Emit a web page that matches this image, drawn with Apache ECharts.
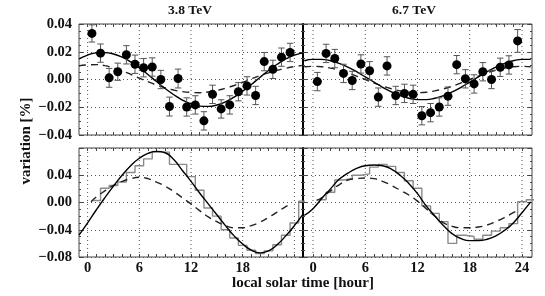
<!DOCTYPE html>
<html><head><meta charset="utf-8">
<script src="https://cdn.jsdelivr.net/npm/echarts@6/dist/echarts.min.js"></script>
<style>html,body{margin:0;padding:0;background:#fff}#c{width:545px;height:296px}</style>
</head><body><div id="c"></div>
<script>
// ---------- data ----------
const panelTitles = ['3.8 TeV', '6.7 TeV'];
const curveHours = [-1,0,1,2,3,4,5,6,7,8,9,10,11,12,13,14,15,16,17,18,19,20,21,22,23,24,25];
const pointHours = [0.5,1.5,2.5,3.5,4.5,5.5,6.5,7.5,8.5,9.5,10.5,11.5,12.5,13.5,14.5,15.5,16.5,17.5,18.5,19.5,20.5,21.5,22.5,23.5];
const dashHours = [0.4,1,2,3,4,5,6,7,8,9,10,11,12,13,14,15,16,17,18,19,20,21,22,23,23.6];
const stepEdges = [0.5,1.5,2.5,3.5,4.5,5.5,6.5,7.5,8.5,9.5,10.5,11.5,12.5,13.5,14.5,15.5,16.5,17.5,18.5,19.5,20.5,21.5,22.5,23.5,24.5,25.5];
const gridHours = [0,6,12,18,24];
const minorHours = [0,1,2,3,4,5,6,7,8,9,10,11,12,13,14,15,16,17,18,19,20,21,22,23,24];
const labelHoursLeft = [0,6,12,18];
const labelHoursRight = [0,6,12,18,24];

// upper panels: measured variation with errors, fitted curves
const pointsL = [0.0332,0.0190,0.0012,0.0056,0.0178,0.0110,0.0085,0.0090,0.0000,-0.0195,0.0007,-0.0198,-0.0183,-0.0298,-0.0107,-0.0212,-0.0183,-0.0088,-0.0046,-0.0115,0.0129,0.0073,0.0161,0.0195];
const errL = [0.0062,0.0066,0.0068,0.0062,0.0066,0.0066,0.0066,0.0066,0.0066,0.0068,0.0068,0.0066,0.0066,0.0066,0.0066,0.0066,0.0066,0.0066,0.0066,0.0066,0.0066,0.0066,0.0066,0.0066];
const pointsR = [-0.0015,0.0188,0.0151,0.0044,-0.0007,0.0112,0.0063,-0.0127,0.0098,-0.0115,-0.0100,-0.0107,-0.0261,-0.0239,-0.0198,-0.0120,0.0107,0.0005,-0.0032,0.0056,0.0000,0.0088,0.0105,0.0278];
const errR = [0.0066,0.0066,0.0066,0.0066,0.0066,0.0066,0.0066,0.0066,0.0066,0.0066,0.0066,0.0066,0.0066,0.0066,0.0066,0.0066,0.0066,0.0066,0.0066,0.0066,0.0066,0.0066,0.0066,0.0082];
const topSolidL = [0.0148,0.0176,0.0192,0.0194,0.0184,0.0161,0.0127,0.0084,0.0036,-0.0015,-0.0065,-0.0110,-0.0148,-0.0176,-0.0192,-0.0194,-0.0184,-0.0161,-0.0127,-0.0084,-0.0036,0.0015,0.0065,0.0110,0.0148,0.0176,0.0192];
const topDashL = [0.0098,0.0105,0.0107,0.0100,0.0082,0.0062,0.0037,0.0010,-0.0016,-0.0040,-0.0060,-0.0076,-0.0087,-0.0093,-0.0095,-0.0090,-0.0079,-0.0063,-0.0043,-0.0020,0.0005,0.0028,0.0048,0.0066,0.0081,0.0093,0.0102];
const topSolidR = [0.0135,0.0145,0.0145,0.0135,0.0116,0.0089,0.0056,0.0019,-0.0019,-0.0056,-0.0089,-0.0116,-0.0135,-0.0145,-0.0145,-0.0135,-0.0116,-0.0089,-0.0056,-0.0019,0.0019,0.0056,0.0089,0.0116,0.0135,0.0145,0.0145];
const topDashR = [0.0092,0.0095,0.0092,0.0082,0.0067,0.0048,0.0025,0.0000,-0.0025,-0.0048,-0.0067,-0.0082,-0.0092,-0.0095,-0.0092,-0.0082,-0.0067,-0.0048,-0.0025,0.0000,0.0025,0.0048,0.0067,0.0082,0.0092,0.0095,0.0092];

// lower panels: histogram (steps) and curves
const stepL = [0.003,0.021,0.025,0.030,0.044,0.054,0.064,0.074,0.074,0.056,0.056,0.038,0.018,-0.008,-0.020,-0.040,-0.052,-0.063,-0.070,-0.075,-0.071,-0.062,-0.048,-0.030,0.002];
const stepR = [0.004,0.015,0.033,0.035,0.040,0.042,0.052,0.056,0.053,0.044,0.032,0.021,-0.005,-0.016,-0.028,-0.060,-0.048,-0.050,-0.054,-0.048,-0.042,-0.037,-0.031,0.001,0.004];
const botSolidL = [-0.048,-0.030,-0.011,0.007,0.024,0.040,0.054,0.065,0.072,0.075,0.073,0.063,0.047,0.031,0.014,-0.002,-0.018,-0.034,-0.049,-0.061,-0.070,-0.074,-0.071,-0.062,-0.049,-0.034,-0.017];
const botDashL = [0.001,0.008,0.017,0.025,0.031,0.035,0.037,0.035,0.030,0.024,0.016,0.007,-0.002,-0.012,-0.021,-0.028,-0.034,-0.037,-0.037,-0.034,-0.029,-0.022,-0.014,-0.006,-0.002];
const botSolidR = [-0.019,-0.009,0.006,0.020,0.034,0.043,0.050,0.054,0.055,0.054,0.049,0.040,0.028,0.013,-0.005,-0.020,-0.034,-0.046,-0.053,-0.056,-0.056,-0.054,-0.049,-0.041,-0.030,-0.015,0.001];
const botDashR = [0.003,0.007,0.017,0.026,0.033,0.035,0.036,0.035,0.031,0.025,0.018,0.011,0.002,-0.009,-0.020,-0.030,-0.035,-0.037,-0.037,-0.036,-0.033,-0.028,-0.022,-0.015,-0.011];

// ---------- chart ----------
const FONT = 'Liberation Serif';
const chart = echarts.init(document.getElementById('c'), null, {renderer: 'canvas'});
const frame = {show: true, borderColor: '#444', borderWidth: 1, backgroundColor: 'transparent'};
const grids = [
  Object.assign({left: 79, top: 24, width: 224, height: 111}, frame),
  Object.assign({left: 303, top: 24, width: 229, height: 111}, frame),
  Object.assign({left: 79, top: 148, width: 224, height: 109}, frame),
  Object.assign({left: 303, top: 148, width: 229, height: 109}, frame)
];
const xr = [[-1, 25], [-1.15, 25.15], [-1, 25], [-1.15, 25.15]];
const yr = [[-0.04, 0.04, 0.02], [-0.04, 0.04, 0.02], [-0.08, 0.08, 0.04], [-0.08, 0.08, 0.04]];
const fmt = v => (v < -1e-9 ? '\u2212' : '') + Math.abs(v).toFixed(2);
const labelStyle = {fontFamily: FONT, fontWeight: 'bold', fontSize: 14.5, color: '#111'};

const xAxes = [], yAxes = [];
for (let g = 0; g < 4; g++) {
  const labels = g === 2 ? labelHoursLeft : (g === 3 ? labelHoursRight : null);
  xAxes.push({
    type: 'value', gridIndex: g, position: 'bottom', min: xr[g][0], max: xr[g][1],
    axisLine: {show: false, onZero: false},
    axisTick: {show: true, inside: true, length: 3, customValues: minorHours, lineStyle: {color: '#444'}},
    axisLabel: Object.assign({show: !!labels, customValues: labels || [], margin: 4}, labelStyle),
    splitLine: {show: false}
  });
}
for (let g = 0; g < 4; g++) {
  xAxes.push({
    type: 'value', gridIndex: g, position: 'top', min: xr[g][0], max: xr[g][1],
    axisLine: {show: false, onZero: false},
    axisTick: {show: true, inside: true, length: 3, customValues: minorHours, lineStyle: {color: '#444'}},
    axisLabel: {show: false}, splitLine: {show: false}
  });
}
for (let g = 0; g < 4; g++) {
  const isLeft = g % 2 === 0;
  yAxes.push({
    type: 'value', gridIndex: g, position: 'left', min: yr[g][0], max: yr[g][1], interval: yr[g][2],
    axisLine: {show: !isLeft, onZero: false, lineStyle: {color: '#000', width: 2}},
    axisTick: {show: true, inside: true, length: 4, lineStyle: {color: '#444'}},
    minorTick: {show: true, splitNumber: 4, length: 2, lineStyle: {color: '#444'}},
    axisLabel: Object.assign({show: isLeft, margin: 7, formatter: fmt, showMaxLabel: g !== 2}, labelStyle),
    splitLine: {show: true, lineStyle: {type: [1, 3], color: '#555', width: 1}}
  });
}
for (let g = 0; g < 4; g++) {
  yAxes.push({
    type: 'value', gridIndex: g, position: 'right', min: yr[g][0], max: yr[g][1], interval: yr[g][2],
    axisLine: {show: false, onZero: false},
    axisTick: {show: true, inside: true, length: 4, lineStyle: {color: '#444'}},
    minorTick: {show: true, splitNumber: 4, length: 2, lineStyle: {color: '#444'}},
    axisLabel: {show: false}, splitLine: {show: false}
  });
}

const pairs = (xs, ys) => ys.map((v, k) => [xs[k], v]);
function vGrid(g) {
  return {type: 'custom', xAxisIndex: g, yAxisIndex: g, silent: true, z: 1,
    encode: {x: 0}, data: gridHours.map(h => [h]),
    renderItem: (params, api) => {
      const a = api.coord([api.value(0), yr[g][0]]);
      const b = api.coord([api.value(0), yr[g][1]]);
      return {type: 'line', shape: {x1: a[0], y1: a[1], x2: b[0], y2: b[1]},
        style: {stroke: '#555', lineWidth: 1, lineDash: [1, 3]}};
    }};
}
function solid(g, ys) {
  return {type: 'line', xAxisIndex: g, yAxisIndex: g, data: pairs(curveHours, ys), smooth: true,
    showSymbol: false, lineStyle: {color: '#000', width: 1.4}, z: 4};
}
function dashed(g, xs, ys) {
  return {type: 'line', xAxisIndex: g, yAxisIndex: g, data: pairs(xs, ys), smooth: true,
    showSymbol: false, lineStyle: {color: '#222', width: 1.4, type: [7, 5]}, z: 3};
}
function steps(g, vals) {
  const d = stepEdges.map((e, i) => [e, vals[Math.min(i, vals.length - 1)]]);
  return {type: 'line', xAxisIndex: g, yAxisIndex: g, data: d, step: 'end',
    showSymbol: false, lineStyle: {color: '#8a8a8a', width: 1.4}, z: 2};
}
function errBars(g, pts, err) {
  return {type: 'custom', xAxisIndex: g, yAxisIndex: g, z: 5,
    encode: {x: 0, y: [1, 2]},
    data: pts.map((v, k) => [pointHours[k], v - err[k], v + err[k]]),
    renderItem: (params, api) => {
      const x = api.value(0);
      const a = api.coord([x, api.value(1)]);
      const b = api.coord([x, api.value(2)]);
      const cw = 3.2;
      const st = {stroke: '#555', lineWidth: 1};
      return {type: 'group', children: [
        {type: 'line', shape: {x1: a[0], y1: a[1], x2: b[0], y2: b[1]}, style: st},
        {type: 'line', shape: {x1: a[0] - cw, y1: a[1], x2: a[0] + cw, y2: a[1]}, style: st},
        {type: 'line', shape: {x1: b[0] - cw, y1: b[1], x2: b[0] + cw, y2: b[1]}, style: st}
      ]};
    }};
}
function points(g, pts) {
  return {type: 'scatter', xAxisIndex: g, yAxisIndex: g, symbol: 'circle', symbolSize: 9,
    itemStyle: {color: '#000', opacity: 1}, data: pairs(pointHours, pts), z: 6};
}

const series = [
  vGrid(0), vGrid(1), vGrid(2), vGrid(3),
  solid(0, topSolidL), dashed(0, curveHours, topDashL), errBars(0, pointsL, errL), points(0, pointsL),
  solid(1, topSolidR), dashed(1, curveHours, topDashR), errBars(1, pointsR, errR), points(1, pointsR),
  steps(2, stepL), solid(2, botSolidL), dashed(2, dashHours, botDashL),
  steps(3, stepR), solid(3, botSolidR), dashed(3, dashHours, botDashR)
];

const txt = (x, y, text, size, rot) => ({
  type: 'text', x: x, y: y, rotation: rot || 0, silent: true,
  style: {text: text, fill: '#111', font: 'bold ' + size + 'px "Liberation Serif"', textAlign: 'center', textVerticalAlign: 'middle'}
});

chart.setOption({
  animation: false,
  grid: grids, xAxis: xAxes, yAxis: yAxes, series: series,
  graphic: [
    txt(190, 11, panelTitles[0], 13.5),
    txt(414, 11, panelTitles[1], 13.5),
    txt(303, 283, 'local solar time [hour]', 15),
    txt(26, 141, 'variation [%]', 15, Math.PI / 2)
  ]
});
</script></body></html>
